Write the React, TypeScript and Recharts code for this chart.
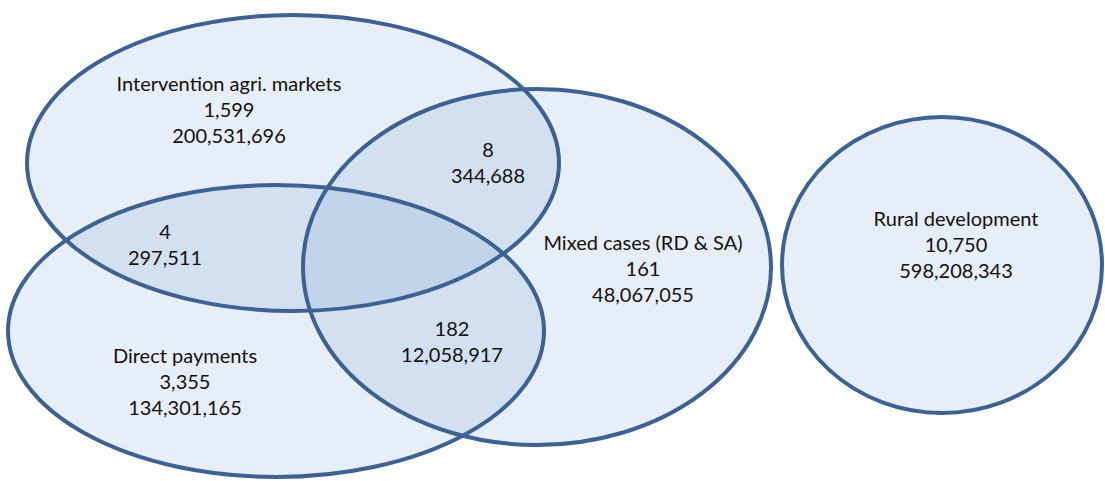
import { ScatterChart, Scatter, XAxis, YAxis } from "recharts";

// Venn sets (centre and half-axes in chart units, y grows downwards)
const setNames = ["Intervention agri. markets", "Direct payments", "Mixed cases (RD & SA)", "Rural development"];
const setCenterX = [293, 276, 537, 942];
const setCenterY = [163, 331, 267, 265];
const setRadiusX = [266, 268, 234, 160];
const setRadiusY = [148, 146, 178, 148];

// region labels: name / count / amount
const labelLines = [
  ["Intervention agri. markets", "1,599", "200,531,696"],
  ["8", "344,688"],
  ["4", "297,511"],
  ["Mixed cases (RD & SA)", "161", "48,067,055"],
  ["Rural development", "10,750", "598,208,343"],
  ["182", "12,058,917"],
  ["Direct payments", "3,355", "134,301,165"],
];
const labelX = [229, 488, 165, 643, 956, 452, 185];
const labelY = [83, 149, 231, 242, 218, 328, 355];

const W = 1105;
const H = 481;
const LINE = 26;

const sets = setNames.map((name, i) => ({
  name,
  x: setCenterX[i],
  y: setCenterY[i],
  rx: setRadiusX[i],
  ry: setRadiusY[i],
}));

const labels = labelLines.map((lines, i) => ({ lines, x: labelX[i], y: labelY[i] }));

// 1 unit = 1 px since the domain matches the plot size
const kx = W / W;
const ky = H / H;

const EllipseFill = (props: any) => (
  <ellipse
    cx={props.cx}
    cy={props.cy}
    rx={props.payload.rx * kx}
    ry={props.payload.ry * ky}
    fill="rgb(111,153,207)"
    fillOpacity={0.167}
    stroke="none"
  />
);

const EllipseOutline = (props: any) => (
  <ellipse
    cx={props.cx}
    cy={props.cy}
    rx={props.payload.rx * kx}
    ry={props.payload.ry * ky}
    fill="none"
    stroke="#3c6192"
    strokeWidth={4}
  />
);

const RegionLabel = (props: any) => (
  <text
    x={props.cx}
    y={props.cy}
    textAnchor="middle"
    fontFamily="Lato, 'Open Sans', sans-serif"
    fontSize={20}
    fill="#111"
  >
    {props.payload.lines.map((t: string, j: number) => (
      <tspan key={j} x={props.cx} y={props.cy + j * LINE} dominantBaseline="central">
        {t}
      </tspan>
    ))}
  </text>
);

export default function App() {
  return (
    <div style={{ position: "absolute", left: 0, top: 0, width: W, height: H, background: "#fff" }}>
      <ScatterChart width={W} height={H} margin={{ top: 0, right: 0, bottom: 0, left: 0 }}>
        <XAxis type="number" dataKey="x" domain={[0, W]} hide />
        <YAxis type="number" dataKey="y" domain={[0, H]} reversed hide />
        <Scatter data={sets} shape={EllipseFill} isAnimationActive={false} />
        <Scatter data={sets} shape={EllipseOutline} isAnimationActive={false} />
        <Scatter data={labels} shape={RegionLabel} isAnimationActive={false} />
      </ScatterChart>
    </div>
  );
}
